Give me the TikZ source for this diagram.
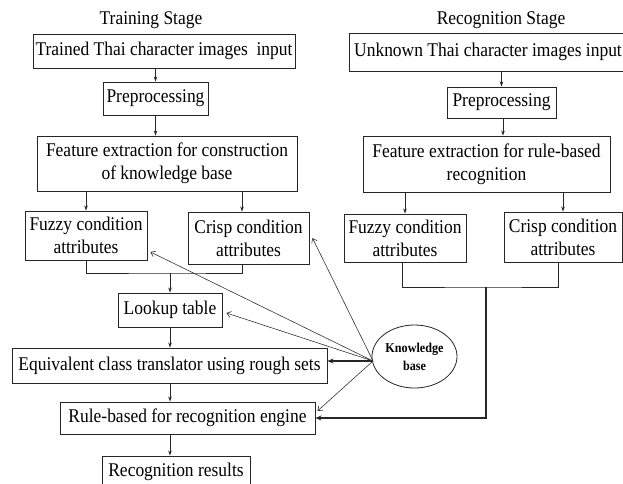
\documentclass[tikz,border=0pt]{standalone}
\usepackage{fontspec}
\setmainfont{Liberation Serif}[FakeStretch=0.9]
\usetikzlibrary{arrows.meta,shapes.geometric}
\begin{document}
\begin{tikzpicture}[x=1pt,y=-1pt,
  box/.style={draw=black!85, line width=0.9pt, inner sep=0pt, align=center,
    font=\fontsize{19.4}{23}\selectfont},
  title/.style={inner sep=0pt, font=\fontsize{19.4}{21}\selectfont},
  conn/.style={draw=black!85, line width=0.8pt},
  arr/.style={conn, -{Stealth[length=5pt,width=3.5pt]}},
  thickarr/.style={draw=black!85, line width=1.6pt, -{Stealth[length=6pt,width=5pt]}},
  medarr/.style={draw=black!85, line width=1.1pt, -{Stealth[length=6pt,width=5pt]}},
  kbarr/.style={draw=black!80, line width=0.6pt, -{Straight Barb[length=4pt,width=6pt]}}]
\useasboundingbox (0,0) rectangle (623,483);
\clip (0,0) rectangle (623,483);

% titles
\node[title] (t1) at (151,20) {Training Stage};
\node[title] (t2) at (501,20) {Recognition Stage};

% training stage
\node[box, minimum width=262pt, minimum height=34pt] (in1) at (164,51) {Trained Thai character images\ \ input};
\node[box, minimum width=105pt, minimum height=33pt] (pre1) at (155.5,98.5) {Preprocessing};
\node[box, minimum width=260pt, minimum height=55pt] (fe1) at (167,163.5) {Feature extraction for construction\\of knowledge base};
\node[box, minimum width=122pt, minimum height=49pt] (fz1) at (86,235.5) {Fuzzy condition\\attributes};
\node[box, minimum width=121pt, minimum height=52pt] (cr1) at (248.5,238) {Crisp condition\\attributes};
\node[box, minimum width=104pt, minimum height=34pt] (lut) at (170,310) {Lookup table};
\node[box, minimum width=315pt, minimum height=35pt] (eq) at (169.5,365.5) {Equivalent class translator using rough sets};
\node[box, minimum width=255pt, minimum height=32pt] (rb) at (187.5,418) {Rule-based for recognition engine};
\node[box, minimum width=148pt, minimum height=32pt] (res) at (176,472) {Recognition results};

% recognition stage
\node[box, minimum width=278pt, minimum height=38pt] (in2) at (488,52) {Unknown Thai character images input};
\node[box, minimum width=109pt, minimum height=31pt] (pre2) at (501.5,102.5) {Preprocessing};
\node[box, minimum width=247pt, minimum height=56pt] (fe2) at (486.5,164) {Feature extraction for rule-based\\recognition};
\node[box, minimum width=122pt, minimum height=48pt] (fz2) at (405,238) {Fuzzy condition\\attributes};
\node[box, minimum width=118pt, minimum height=50pt] (cr2) at (563,237) {Crisp condition\\attributes};

% knowledge base
\node[draw=black!85, line width=0.8pt, ellipse, minimum width=85pt, minimum height=63pt, inner sep=0pt,
  align=center, font=\bfseries\fontsize{13.5}{18}\selectfont] (kb) at (414.5,356.5) {Knowledge\\base};

\coordinate (m1) at (170,273);
\coordinate (m2) at (486,287);
\coordinate (kbo) at (373,361);

% training flow
\draw[arr] (in1.south -| pre1.north) -- (pre1.north);
\draw[arr] (pre1.south) -- (pre1.south |- fe1.north);
\draw[arr] (fe1.south -| fz1.north) -- (fz1.north);
\draw[arr] ([xshift=-6.5pt]cr1.north |- fe1.south) -- ([xshift=-6.5pt]cr1.north);
\draw[conn] (fz1.south) |- (m1) -| ([xshift=-6.5pt]cr1.south);
\draw[arr] (m1) -- (lut.north);
\draw[arr] (lut.south) -- (lut.south |- eq.north);
\draw[arr] (eq.south -| lut.south) -- (rb.north -| lut.south);
\draw[arr] (rb.south -| lut.south) -- (res.north -| lut.south);

% recognition flow
\draw[arr] (in2.south -| pre2.north) -- (pre2.north);
\draw[arr] ([xshift=1.5pt]pre2.south) -- ([xshift=1.5pt]pre2.south |- fe2.north);
\draw[arr] (fe2.south -| fz2.north) -- (fz2.north);
\draw[arr] (fe2.south -| cr2.north) -- (cr2.north);
\draw[conn] ([xshift=-3pt]fz2.south) |- (m2) -| ([xshift=-5pt]cr2.south);
\draw[medarr] (m2) |- (rb.east);

% knowledge base links
\draw[thickarr] (kbo) -- (kbo -| eq.east);
\draw[kbarr] (kbo) -- ([xshift=3pt]fz1.-15);
\draw[kbarr] (kbo) -- ([xshift=3pt]cr1.east);
\draw[kbarr] (kbo) -- ([xshift=4pt,yshift=-3pt]lut.east);
\draw[kbarr] (kbo) -- ([xshift=2pt,yshift=7pt]rb.east);
\end{tikzpicture}
\end{document}
